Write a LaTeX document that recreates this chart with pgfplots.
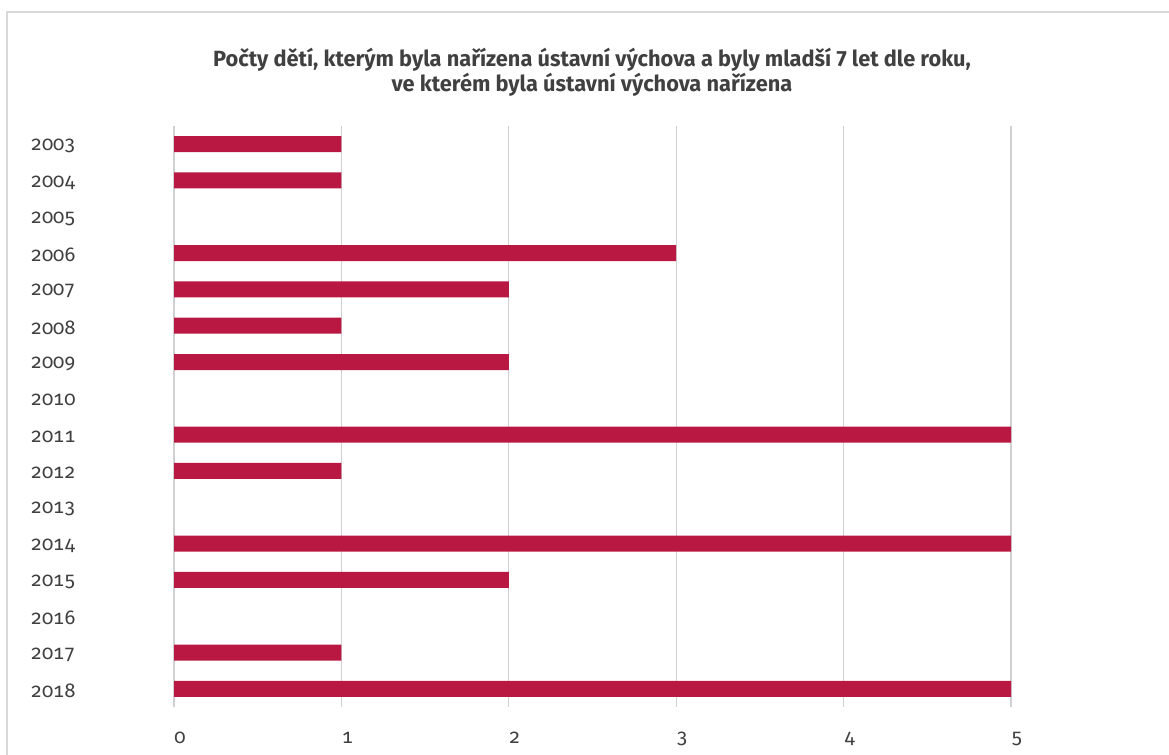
\documentclass[border=0pt]{standalone}
\usepackage{fontspec}
\setmainfont{Fira Sans}[Numbers={OldStyle,Monospaced}]
\newfontfamily\titlefont{Fira Sans}[FakeStretch=0.99]
\usepackage{pgfplots}
\pgfplotsset{compat=1.18}
\definecolor{barc}{RGB}{185,24,67}
\definecolor{gridc}{RGB}{208,208,208}
\definecolor{txt}{RGB}{64,64,64}
\definecolor{frame}{RGB}{217,217,217}
\begin{document}
\begin{tikzpicture}
\path[use as bounding box] (0,0) rectangle (584.5bp,377.5bp);
\draw[frame,line width=0.8bp] (3.5bp,0) -- (3.5bp,371.5bp) -- (584.5bp,371.5bp);
\begin{axis}[
  at={(87bp,24bp)}, anchor=south west,
  scale only axis, width=418.5bp, height=290.5bp,
  xbar, bar width=8bp,
  xmin=0, xmax=5, ymin=-0.5, ymax=15.5, y dir=reverse,
  xtick={0,1,2,3,4,5},
  ytick={0,...,15},
  yticklabels={2003,2004,2005,2006,2007,2008,2009,2010,2011,2012,2013,2014,2015,2016,2017,2018},
  xmajorgrids, major grid style={gridc, line width=0.6bp},
  axis line style={draw=none},
  major tick length=0pt,
  /pgf/number format/assume math mode=true,
  tick label style={font=\fontsize{10bp}{12bp}\selectfont, text=txt},
  yticklabel style={anchor=east, inner sep=0pt, xshift=-49bp, yshift=-1bp},
  xticklabel style={anchor=north west, inner sep=0pt, yshift=-12.5bp},
  clip=false,
]
% years with value 0: 2005, 2010, 2013, 2016 (no bar drawn)
\addplot[draw=none, fill=barc] coordinates {
(1,0) (1,1) (3,3) (2,4) (1,5) (2,6) (5,8) (1,9) (5,11) (2,12) (1,14) (5,15)};
\end{axis}
\node[align=center, text=txt, font=\titlefont\bfseries\fontsize{11bp}{12.5bp}\selectfont, anchor=north] at (296bp,357bp)
  {Počty dětí, kterým byla nařízena ústavní výchova a byly mladší 7 let dle roku,\\ ve kterém byla ústavní výchova nařízena};
\end{tikzpicture}
\end{document}
